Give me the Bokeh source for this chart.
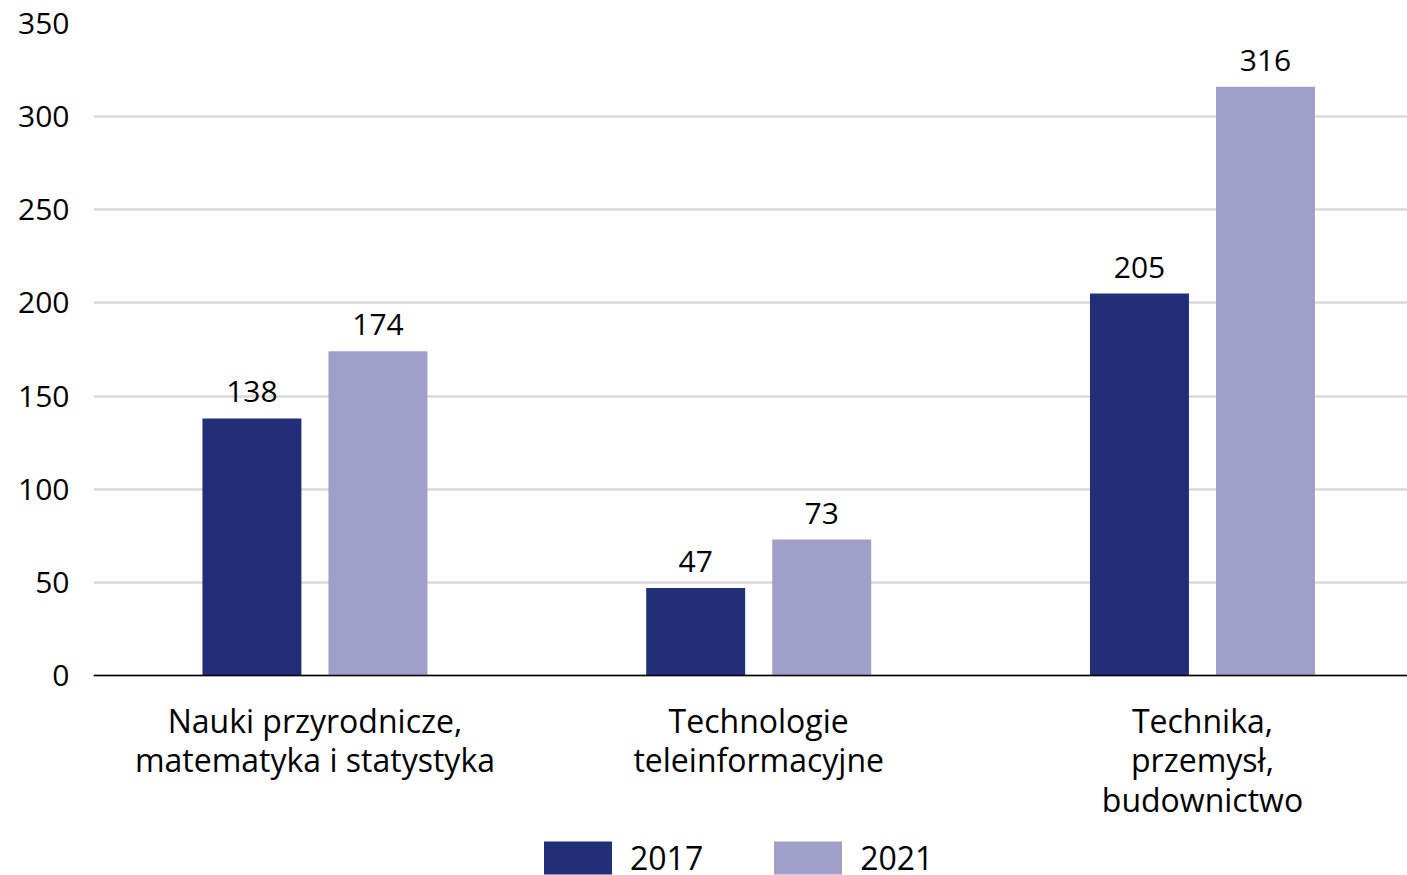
from bokeh.plotting import figure
from bokeh.models import ColumnDataSource, Range1d, FixedTicker, Legend, LegendItem
from bokeh.core.properties import value
from bokeh.embed import file_html
from bokeh.resources import INLINE

categories = ["Nauki przyrodnicze,\nmatematyka i statystyka",
              "Technologie\nteleinformacyjne",
              "Technika,\nprzemysł,\nbudownictwo"]
years = ["2017", "2021"]
values_2017 = [138, 47, 205]
values_2021 = [174, 73, 316]
y_ticks = [0, 50, 100, 150, 200, 250, 300, 350]

FONT = "Open Sans"
C17 = "#212E78"
C21 = "#9F9FC8"
BW = 0.223
OFF = 0.142

# layout geometry (pixels)
W, H = 1407, 875
TOP, LEFT = 23, 93
PLOT_H = 652            # pixels from 0 to 350
Y_MAX = 350
Y_MIN = Y_MAX - (H - TOP) * Y_MAX / PLOT_H   # frame extends below zero to host labels & legend

idx = list(range(len(categories)))
src17 = ColumnDataSource(dict(x=[i - OFF for i in idx], top=values_2017,
                              lab=[str(v) for v in values_2017]))
src21 = ColumnDataSource(dict(x=[i + OFF for i in idx], top=values_2021,
                              lab=[str(v) for v in values_2021]))

p = figure(width=W, height=H, output_backend="svg", toolbar_location=None,
           x_range=Range1d(-0.499, 2.462), y_range=Range1d(Y_MIN, Y_MAX),
           min_border_left=LEFT, min_border_right=0, min_border_top=TOP, min_border_bottom=0)
p.outline_line_color = None
p.background_fill_color = "white"
p.border_fill_color = "white"

r17 = p.vbar(x="x", top="top", bottom=0, width=BW, source=src17, fill_color=C17, line_color=None)
r21 = p.vbar(x="x", top="top", bottom=0, width=BW, source=src21, fill_color=C21, line_color=None)

for s in (src17, src21):
    p.text(x="x", y="top", text="lab", source=s, text_align="center",
           text_baseline="bottom", y_offset=-16, text_font=value(FONT),
           text_font_size="30px", text_color="black")

p.xgrid.grid_line_color = None
p.ygrid.grid_line_color = "#D9D9D9"
p.ygrid.grid_line_width = 2.5
p.ygrid.ticker = FixedTicker(ticks=y_ticks)

p.yaxis.ticker = FixedTicker(ticks=y_ticks)
p.yaxis.axis_line_color = None
p.yaxis.major_tick_line_color = None
p.yaxis.minor_tick_line_color = None
p.yaxis.major_tick_out = 0
p.yaxis.major_label_standoff = 24
p.yaxis.major_label_text_font = FONT
p.yaxis.major_label_text_font_size = "30px"
p.yaxis.major_label_text_color = "black"

p.xaxis.fixed_location = 0
p.xaxis.ticker = FixedTicker(ticks=idx)
p.xaxis.major_label_overrides = {i: c for i, c in zip(idx, categories)}
p.xaxis.axis_line_color = "black"
p.xaxis.axis_line_width = 1.5
p.xaxis.major_tick_line_color = None
p.xaxis.minor_tick_line_color = None
p.xaxis.major_tick_out = 0
p.xaxis.major_label_standoff = 23
p.xaxis.major_label_text_font = FONT
p.xaxis.major_label_text_font_size = "32px"
p.xaxis.major_label_text_color = "black"
p.xaxis.major_label_text_line_height = 0.92

legend = Legend(items=[LegendItem(label=years[0], renderers=[r17]),
                       LegendItem(label=years[1], renderers=[r21])],
                orientation="horizontal", location=(442, -4),
                glyph_width=85, glyph_height=41, label_standoff=10, spacing=62,
                padding=0, margin=0, border_line_color=None,
                background_fill_alpha=0,
                label_text_font=FONT, label_text_font_size="32px",
                label_text_color="black")
p.add_layout(legend, "center")

open("out.html", "w").write(file_html(p, INLINE))
